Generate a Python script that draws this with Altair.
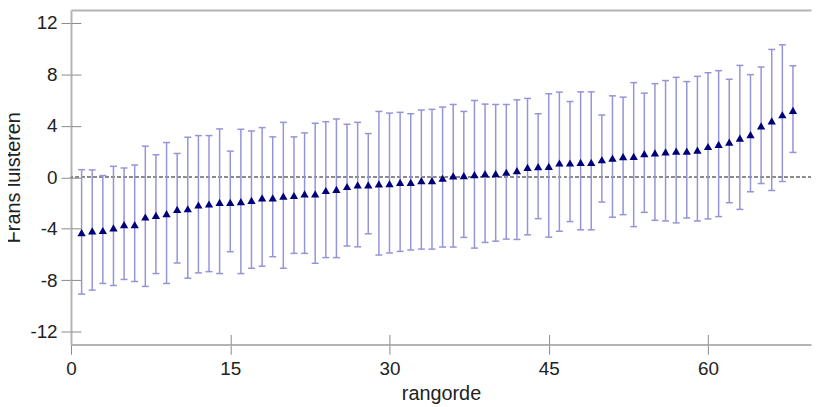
import altair as alt
import pandas as pd

# rank order of the items (x positions)
rank = list(range(1, 69))

# point estimates (triangles)
means = [-4.30, -4.17, -4.14, -3.94, -3.68, -3.68, -3.09, -2.96, -2.83, -2.50,
         -2.45, -2.16, -2.08, -1.96, -1.96, -1.90, -1.80, -1.60, -1.60, -1.47,
         -1.42, -1.29, -1.29, -1.03, -0.95, -0.72, -0.59, -0.59, -0.51, -0.49,
         -0.40, -0.40, -0.26, -0.26, -0.08, 0.10, 0.13, 0.21, 0.28, 0.28,
         0.39, 0.51, 0.77, 0.82, 0.85, 1.11, 1.11, 1.16, 1.16, 1.36,
         1.49, 1.60, 1.62, 1.83, 1.90, 1.98, 2.03, 2.03, 2.11, 2.39,
         2.55, 2.73, 3.04, 3.32, 3.99, 4.38, 4.86, 5.20]

# upper ends of the error bars
upper = [0.59, 0.57, 0.13, 0.85, 0.72, 0.95, 2.42, 1.75, 2.70, 1.85,
         3.11, 3.24, 3.24, 3.76, 2.03, 3.73, 3.60, 3.86, 3.14, 4.27,
         3.14, 3.45, 4.20, 4.32, 4.53, 4.12, 4.27, 3.40, 5.12, 4.99,
         5.05, 4.94, 5.23, 5.28, 5.46, 5.66, 5.12, 5.97, 5.69, 5.66,
         5.66, 6.02, 6.13, 4.94, 6.49, 6.62, 5.89, 6.64, 6.64, 4.84,
         6.33, 6.23, 7.36, 6.54, 7.28, 7.52, 7.77, 7.44, 7.85, 8.13,
         8.29, 7.62, 8.70, 7.98, 8.57, 9.94, 10.30, 8.67]

# lower ends of the error bars
lower = [-9.09, -8.78, -8.26, -8.42, -7.95, -8.11, -8.49, -7.49, -8.26, -6.67,
         -7.85, -7.44, -7.34, -7.49, -5.79, -7.49, -7.08, -6.92, -6.18, -7.08,
         -5.92, -5.92, -6.69, -6.25, -6.25, -5.35, -5.41, -4.40, -6.05, -5.89,
         -5.77, -5.66, -5.59, -5.59, -5.43, -5.43, -4.68, -5.51, -5.07, -4.97,
         -4.81, -4.84, -4.48, -3.22, -4.66, -4.20, -3.45, -4.09, -4.09, -1.93,
         -3.11, -2.91, -3.84, -2.73, -3.35, -3.40, -3.55, -3.17, -3.40, -3.24,
         -3.06, -1.98, -2.50, -1.13, -0.49, -1.03, -0.33, 1.93]

x_ticks = [0, 15, 30, 45, 60]
y_ticks = [-12, -8, -4, 0, 4, 8, 12]

df = pd.DataFrame({"rank": rank, "mean": means, "upper": upper, "lower": lower})

FONT = "Liberation Sans"
AX_GRAY = "#b4b4b4"
TICK_GRAY = "#8a8a8a"
TXT = "#222222"
BAR = "#9494d8"
PT = "#00007a"

xscale = alt.Scale(domain=[0, 69.7], nice=False, zero=False)
yscale = alt.Scale(domain=[-13, 13], nice=False, zero=False)

x_main = alt.Axis(orient="bottom", values=x_ticks, title="rangorde", grid=False,
                  domainColor=AX_GRAY, domainWidth=2, tickColor=TICK_GRAY,
                  tickWidth=1, tickSize=10, labelFont=FONT, labelFontSize=19,
                  labelColor=TXT, labelPadding=5, labelFlush=False,
                  labelExpr="toString(datum.value)",
                  titleFont=FONT, titleFontSize=20,
                  titleFontWeight="normal", titleColor=TXT, titlePadding=6)
y_main = alt.Axis(orient="left", values=y_ticks, title="Frans luisteren", grid=False,
                  domainColor=AX_GRAY, domainWidth=2, tickColor=TICK_GRAY,
                  tickWidth=1, tickSize=10, labelFont=FONT, labelFontSize=19,
                  labelColor=TXT, labelPadding=4, labelFlush=False,
                  labelExpr="toString(datum.value)",
                  titleFont=FONT, titleFontSize=20,
                  titleFontWeight="normal", titleColor=TXT, titlePadding=6.5)
x_top = alt.Axis(orient="top", grid=False, labels=False, ticks=False, title=None,
                 domainColor=AX_GRAY, domainWidth=2)
y_inner = alt.Axis(orient="left", values=y_ticks, offset=-10, domain=False,
                   labels=False, grid=False, title=None, tickColor=TICK_GRAY,
                   tickWidth=1, tickSize=10)
x_inner = alt.Axis(orient="bottom", values=x_ticks, offset=-10, domain=False,
                   labels=False, grid=False, title=None, tickColor=TICK_GRAY,
                   tickWidth=1, tickSize=10)

base = alt.Chart(df)

zero = base.mark_rule(color="#8c8c8c", strokeWidth=1, strokeDash=[3, 3]).encode(
    y=alt.YDatum(0, scale=yscale, axis=None)
)

bars = base.mark_rule(color=BAR, strokeWidth=1.5).encode(
    x=alt.X("rank:Q", scale=xscale, axis=x_main),
    y=alt.Y("lower:Q", scale=yscale, axis=y_main),
    y2="upper:Q",
)

caps_up = base.mark_tick(orient="horizontal", color=BAR, size=7, thickness=1.5, opacity=1).encode(
    x=alt.X("rank:Q", scale=xscale, axis=x_top),
    y=alt.Y("upper:Q", scale=yscale, axis=y_inner),
)

caps_lo = base.mark_tick(orient="horizontal", color=BAR, size=7, thickness=1.5, opacity=1).encode(
    x=alt.X("rank:Q", scale=xscale, axis=None),
    y=alt.Y("lower:Q", scale=yscale, axis=None),
)

points = base.mark_point(shape="triangle-up", filled=True, color=PT, size=70, opacity=1).encode(
    x=alt.X("rank:Q", scale=xscale, axis=x_inner),
    y=alt.Y("mean:Q", scale=yscale, axis=None),
)

chart = alt.layer(zero, bars, caps_up, caps_lo, points).resolve_axis(
    x="independent", y="independent"
).properties(
    width=746,
    height=337,
    autosize=alt.AutoSizeParams(type="none"),
    padding={"left": 63.5, "top": 0.5, "right": 1, "bottom": 62},
    background="white",
).configure_view(strokeWidth=0)

chart.save("out.html", embed_options={"renderer": "svg", "actions": False})
